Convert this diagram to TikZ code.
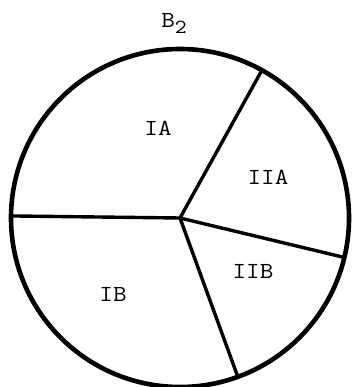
\documentclass[tikz,border=0pt]{standalone}
\usetikzlibrary{calc}
\begin{document}
\begin{tikzpicture}[x=1pt,y=1pt,
  rim/.style={line width=4.6pt},
  spoke/.style={line width=3.4pt, line cap=round},
  lab/.style={font=\ttfamily\fontsize{23}{23}\selectfont, xscale=1.15, inner sep=0pt}]
\useasboundingbox (0,0) rectangle (353,-387);
\coordinate (o) at (180,-218);
\draw[rim] (o) circle[radius=169];
\coordinate (pl) at ($(o)+(179.3:169)$);
\coordinate (pur) at ($(o)+(61:169)$);
\coordinate (pr) at ($(o)+(-13.5:169)$);
\coordinate (pb) at ($(o)+(-70:169)$);
\draw[spoke] (o) -- (pl);
\draw[spoke] (o) -- (pur);
\draw[spoke] (o) -- (pr);
\draw[spoke] (o) -- (pb);
\node[lab] (ia) at (158,-128) {IA};
\node[lab] (iia) at (268,-177) {IIA};
\node[lab] (iib) at (253,-271) {IIB};
\node[lab] (ib) at (113,-294) {IB};
\node[lab, anchor=base] (b2) at (174,-28) {B\raisebox{-6pt}{\fontsize{20}{20}\selectfont 2}};
\end{tikzpicture}
\end{document}
